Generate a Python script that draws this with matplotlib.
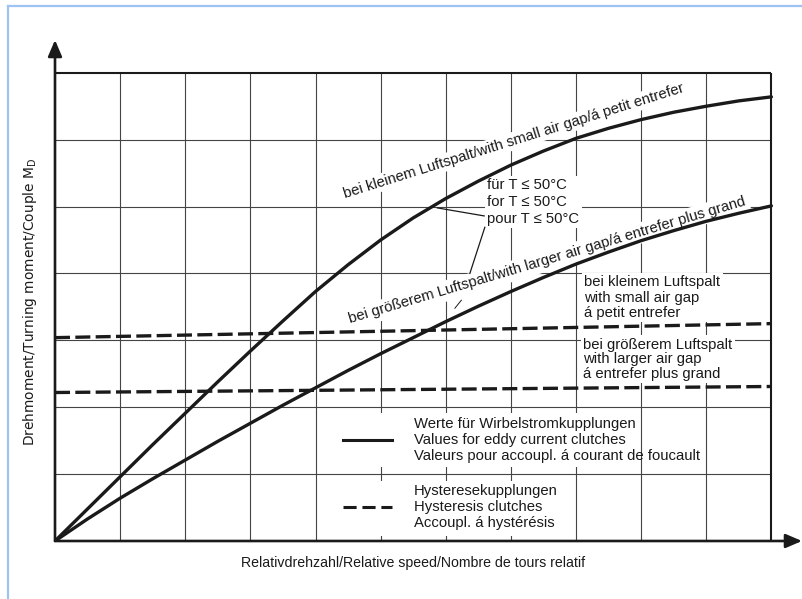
import matplotlib.pyplot as plt
from matplotlib.patches import Rectangle
from matplotlib.lines import Line2D

plt.rcParams['font.family'] = ['Liberation Sans', 'DejaVu Sans']

# relative speed in grid units, torque in grid units
speed = [0, 0.5, 1, 1.5, 2, 2.5, 3, 3.5, 4, 4.5, 5, 5.5, 6, 6.5, 7, 7.5, 8, 8.5, 9, 9.5, 10, 10.5, 11]
eddy_small_gap = [0, 0.48, 0.96, 1.44, 1.91, 2.38, 2.84, 3.29, 3.73, 4.13, 4.5, 4.83, 5.12,
                  5.38, 5.62, 5.83, 6.02, 6.17, 6.3, 6.41, 6.5, 6.58, 6.64]
eddy_large_gap = [0, 0.33, 0.64, 0.93, 1.21, 1.49, 1.76, 2.03, 2.29, 2.55, 2.8, 3.04, 3.28,
                  3.51, 3.73, 3.94, 4.14, 4.32, 4.49, 4.64, 4.78, 4.9, 5.01]
hyst_speed = [0, 11]
hyst_small_gap = [3.04, 3.25]
hyst_large_gap = [2.22, 2.31]

label_small = "bei kleinem Luftspalt/with small air gap/á petit entrefer"
label_large = "bei größerem Luftspalt/with larger air gap/á entrefer plus grand"
label_temp = "für T ≤ 50°C\nfor T ≤ 50°C\npour T ≤ 50°C"
label_hyst_small = "bei kleinem Luftspalt\nwith small air gap\ná petit entrefer"
label_hyst_large = "bei größerem Luftspalt\nwith larger air gap\ná entrefer plus grand"
legend_eddy = "Werte für Wirbelstromkupplungen\nValues for eddy current clutches\nValeurs pour accoupl. á courant de foucault"
legend_hyst = "Hysteresekupplungen\nHysteresis clutches\nAccoupl. á hystérésis"
xlabel = "Relativdrehzahl/Relative speed/Nombre de tours relatif"
ylabel = r"Drehmoment/Turning moment/Couple M$_{\mathrm{D}}$"

ink = '#1a1a1a'
grid_col = '#444444'
fs = 10.7
white = dict(facecolor='white', edgecolor='none', pad=1.5)

fig = plt.figure(figsize=(8.02, 5.99), dpi=100)
ax = fig.add_axes([55 / 802, 58 / 599, 747 / 802, 501 / 599])
ax.set_xlim(0, 11.47)
ax.set_ylim(0, 7.49)
ax.axis('off')

# grid
ax.vlines(range(1, 11), 0, 7, colors=grid_col, lw=0.8, zorder=1)
ax.hlines(range(1, 7), 0, 11, colors=grid_col, lw=0.8, zorder=1)
ax.vlines(11, 0, 7, colors=ink, lw=1.5, zorder=1)
ax.hlines(7, 0, 11, colors=ink, lw=1.5, zorder=1)

# axes with arrows
arrow = dict(arrowstyle='-|>,head_length=0.7,head_width=0.3', lw=1.9, color=ink,
             shrinkA=0, shrinkB=0, mutation_scale=14)
ax.annotate('', xy=(11.47, 0), xytext=(0, 0), arrowprops=arrow, annotation_clip=False, zorder=6)
ax.annotate('', xy=(0, 7.49), xytext=(0, 0), arrowprops=arrow, annotation_clip=False, zorder=6)

# curves
ax.plot(speed, eddy_small_gap, color=ink, lw=2.4, solid_capstyle='round', zorder=5)
ax.plot(speed, eddy_large_gap, color=ink, lw=2.4, solid_capstyle='round', zorder=5)
ax.plot(hyst_speed, hyst_small_gap, color=ink, lw=2.4, dashes=(4.5, 1.6), zorder=5)
ax.plot(hyst_speed, hyst_large_gap, color=ink, lw=2.4, dashes=(4.5, 1.6), zorder=5)

# curve labels
ax.text(7.04, 5.98, label_small, rotation=17.4, rotation_mode='anchor', ha='center', va='center',
        fontsize=fs, color=ink, bbox=white, zorder=3)
ax.text(7.56, 4.19, label_large, rotation=16.6, rotation_mode='anchor', ha='center', va='center',
        fontsize=fs, color=ink, bbox=dict(facecolor='white', edgecolor='none', pad=2.5), zorder=3)
ax.text(6.64, 5.07, label_temp, ha='left', va='center', fontsize=fs, color=ink,
        linespacing=1.27, bbox=white, zorder=3)
ax.plot([5.87, 6.59], [4.98, 4.86], color=ink, lw=0.9, zorder=4)
ax.plot([6.37, 6.6], [4.0, 4.69], color=ink, lw=0.9, zorder=4)
ax.plot([6.14, 6.24], [3.48, 3.6], color=ink, lw=0.7, zorder=4)

ax.text(8.13, 3.64, label_hyst_small, ha='left', va='center', fontsize=fs, color=ink,
        linespacing=1.16, bbox=white, zorder=3)
ax.text(8.11, 2.72, label_hyst_large, ha='left', va='center', fontsize=fs, color=ink,
        linespacing=1.05, bbox=white, zorder=3)

# legend
ax.add_patch(Rectangle((4.3, 1.1), 4.3, 0.82, facecolor='white', edgecolor='none', zorder=2))
ax.add_patch(Rectangle((4.3, 0.08), 3.5, 0.82, facecolor='white', edgecolor='none', zorder=2))
ax.plot([4.42, 5.18], [1.51, 1.51], color=ink, lw=2.2, zorder=5)
ax.plot([4.42, 5.18], [0.51, 0.51], color=ink, lw=2.2, dashes=(4.3, 1.9), zorder=5)
ax.text(5.51, 1.51, legend_eddy, ha='left', va='center', fontsize=fs, color=ink,
        linespacing=1.19, zorder=5)
ax.text(5.51, 0.51, legend_hyst, ha='left', va='center', fontsize=fs, color=ink,
        linespacing=1.19, zorder=5)

# axis titles
fig.text(413 / 802, 1 - 563 / 599, xlabel, ha='center', va='center', fontsize=10.2, color=ink)
fig.text(30 / 802, 1 - 302 / 599, ylabel, rotation=90, ha='center', va='center',
         fontsize=9.9, color=ink, family='DejaVu Sans')

# light blue frame of the scan
fig.add_artist(Line2D([8 / 802, 8 / 802], [0, 1 - 6 / 599], color='#9cc3f3', lw=1.6,
                      transform=fig.transFigure))
fig.add_artist(Line2D([8 / 802, 1], [1 - 6 / 599, 1 - 6 / 599], color='#9cc3f3', lw=1.6,
                      transform=fig.transFigure))

fig.savefig('out.png', dpi=100)
